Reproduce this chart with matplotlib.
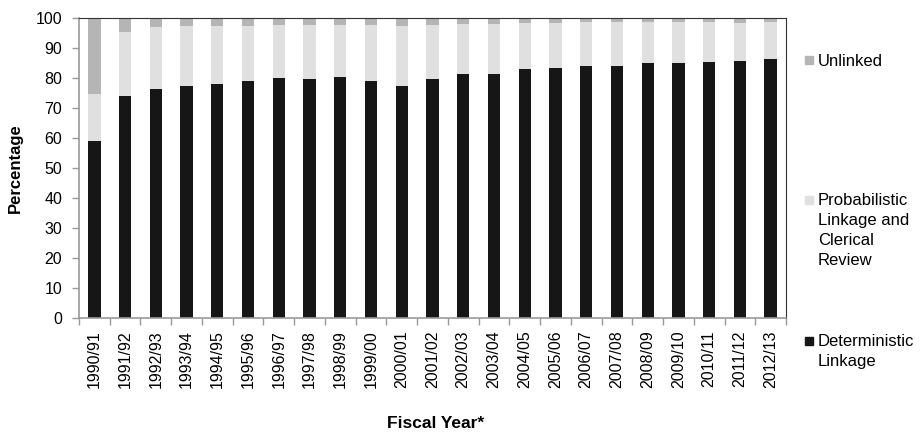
import numpy as np
import matplotlib.pyplot as plt
from matplotlib.patches import Rectangle

plt.rcParams['font.family'] = ['Liberation Sans', 'DejaVu Sans']

years = ['1990/91', '1991/92', '1992/93', '1993/94', '1994/95', '1995/96',
         '1996/97', '1997/98', '1998/99', '1999/00', '2000/01', '2001/02',
         '2002/03', '2003/04', '2004/05', '2005/06', '2006/07', '2007/08',
         '2008/09', '2009/10', '2010/11', '2011/12', '2012/13']
deterministic = [59.0, 74.1, 76.3, 77.2, 78.0, 78.9, 80.0, 79.8, 80.2, 79.1,
                 77.3, 79.8, 81.2, 81.4, 83.1, 83.3, 84.1, 84.1, 85.1, 85.1,
                 85.3, 85.7, 86.3]
# top of the probabilistic segment (cumulative)
linked_total = [74.6, 95.3, 97.0, 97.4, 97.4, 97.4, 97.7, 97.7, 97.7, 97.7,
                97.4, 97.7, 97.9, 98.0, 98.3, 98.3, 98.6, 98.6, 98.6, 98.6,
                98.6, 98.3, 98.6]

det = np.array(deterministic)
prob = np.array(linked_total) - det
unl = 100 - np.array(linked_total)

c_det = '#161616'
c_prob = '#e0e0e0'
c_unl = '#b5b5b5'

W, H = 921, 433
fig = plt.figure(figsize=(W / 100, H / 100), dpi=100)
ax = fig.add_axes([79 / W, (H - 318) / H, (786 - 79) / W, 300 / H])

x = np.arange(len(years))
w = 0.4
ax.bar(x, det, w, color=c_det)
ax.bar(x, prob, w, bottom=det, color=c_prob)
ax.bar(x, unl, w, bottom=det + prob, color=c_unl)

ax.set_xlim(-0.5, len(years) - 0.5)
ax.set_ylim(0, 100)
ax.set_yticks(range(0, 101, 10))
ax.set_xticks(x)
ax.set_xticklabels(years, rotation=90, fontsize=11.5)
ax.tick_params(axis='x', length=0, pad=9)
ax.set_xticks(np.arange(-0.5, len(years), 1), minor=True)
ax.tick_params(axis='x', which='minor', length=5, color='#999999', width=1)
ax.tick_params(axis='y', length=5, color='#999999', width=1, labelsize=11.5, pad=7)

for s in ['left', 'bottom']:
    ax.spines[s].set_color('#999999')
    ax.spines[s].set_linewidth(1.2)
for s in ['top', 'right']:
    ax.spines[s].set_color('#333333')
    ax.spines[s].set_linewidth(0.8)

ax.set_ylabel('Percentage', fontsize=12, fontweight='bold', labelpad=9)
fig.text(436 / W, (H - 424) / H, 'Fiscal Year*', ha='center', va='center',
         fontsize=12.5, fontweight='bold')

# legend drawn in figure pixels: (lines, colour, marker top y, first baseline y)
legend_items = [(['Unlinked'], c_unl, 56, 66),
                (['Probabilistic', 'Linkage and', 'Clerical', 'Review'], c_prob, 196, 205),
                (['Deterministic', 'Linkage'], c_det, 337, 346)]
for lines, col, mtop, base in legend_items:
    fig.patches.append(Rectangle((805 / W, (H - mtop - 8) / H), 8 / W, 8 / H,
                                 transform=fig.transFigure, color=col))
    for i, line in enumerate(lines):
        fig.text(818 / W, (H - base - 20 * i) / H, line, ha='left',
                 va='baseline', fontsize=12)

fig.savefig('out.png', dpi=100)
